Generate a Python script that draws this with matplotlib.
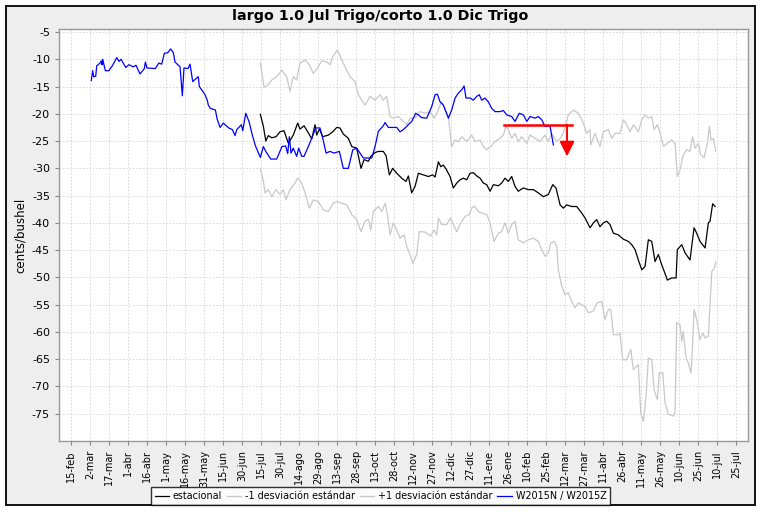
# spread chart: largo Jul Trigo / corto Dic Trigo, seasonal vs current contract
import matplotlib
matplotlib.use("Agg")
import matplotlib.pyplot as plt
from matplotlib.patches import Rectangle

plt.rcParams['axes.unicode_minus'] = False

# x values are days counted from 15-feb (first tick)
tick_labels = ["15-feb", "2-mar", "17-mar", "1-abr", "16-abr", "1-may", "16-may", "31-may",
               "15-jun", "30-jun", "15-jul", "30-jul", "14-ago", "29-ago", "13-sep", "28-sep",
               "13-oct", "28-oct", "12-nov", "27-nov", "12-dic", "27-dic", "11-ene", "26-ene",
               "10-feb", "25-feb", "12-mar", "27-mar", "11-abr", "26-abr", "11-may", "26-may",
               "10-jun", "25-jun", "10-jul", "25-jul"]
tick_days = [15 * i for i in range(len(tick_labels))]

# W2015N / W2015Z (current spread)
w_days = [16.0, 17.1, 17.9, 19.5, 20.3, 22.9, 23.9, 24.5, 25.0, 27.1, 29.8, 32.6, 36.1, 37.9, 39.5,
          43.2, 45.8, 49.2, 51.3, 54.5, 57.9, 58.7, 60.0, 66.6, 69.3, 71.6, 73.7, 76.4, 78.7, 80.8,
          82.1, 86.1, 87.9, 89.2, 92.4, 94.0, 96.1, 98.9, 100.5, 101.3, 105.6, 107.6, 108.4, 110.0,
          114.0, 115.3, 117.7, 120.3, 124.5, 127.4, 129.5, 130.9, 134.5, 135.6, 138.0, 140.8, 142.7,
          145.5, 149.5, 151.9, 153.8, 157.7, 162.4, 166.6, 169.5, 171.1, 172.4, 173.7, 175.5, 178.2,
          179.8, 182.2, 184.0, 187.4, 190.1, 193.2, 196.6, 198.8, 201.4, 204.5, 207.7, 211.9, 215.0,
          219.0, 222.5, 225.6, 230.8, 237.5, 240.1, 242.7, 246.6, 248.0, 250.6, 257.2, 259.8, 262.4,
          265.1, 269.0, 272.2, 274.3, 276.9, 280.9, 284.8, 287.5, 289.3, 291.4, 294.0, 298.0, 300.6,
          303.3, 305.9, 308.5, 310.4, 311.9, 315.1, 317.7, 320.4, 322.4, 324.3, 326.9, 329.5, 332.2,
          334.8, 338.8, 341.4, 344.1, 348.0, 350.6, 354.0, 357.2, 359.9, 362.5, 366.4, 369.0, 371.7,
          374.3, 378.3, 380.9]
w_vals = [-13.9, -12.1, -13.2, -13.1, -11.2, -10.7, -10.3, -11.0, -10.0, -12.1, -12.1, -11.2, -9.7,
          -10.4, -10.0, -11.5, -11.0, -11.4, -11.1, -12.7, -11.7, -10.5, -11.6, -11.7, -10.7, -10.9,
          -8.9, -8.8, -8.1, -8.8, -10.5, -11.4, -16.7, -11.6, -11.7, -10.9, -14.1, -13.5, -13.2, -15.0,
          -16.4, -17.5, -18.4, -19.0, -19.3, -20.9, -22.5, -21.7, -22.6, -22.9, -24.0, -22.9, -22.0,
          -23.1, -19.9, -21.6, -23.5, -25.8, -28.0, -26.0, -26.9, -28.3, -28.3, -26.0, -25.9, -27.3,
          -24.2, -27.2, -26.3, -27.8, -26.3, -27.8, -27.8, -26.0, -24.5, -22.6, -22.6, -24.5, -27.2,
          -26.9, -27.2, -26.9, -30.0, -30.0, -26.6, -26.3, -28.1, -28.1, -26.0, -23.2, -22.2, -21.6,
          -22.5, -22.5, -23.3, -22.9, -22.3, -21.4, -19.9, -20.2, -20.7, -20.8, -18.7, -16.5, -16.4,
          -17.8, -18.4, -20.8, -19.3, -17.1, -16.2, -15.6, -14.9, -17.1, -17.1, -17.5, -16.8, -16.5,
          -17.5, -17.1, -17.8, -19.0, -19.6, -19.6, -19.4, -20.2, -20.5, -21.4, -19.9, -20.2, -21.4,
          -20.5, -20.8, -20.5, -21.1, -22.3, -22.3, -25.7]

# estacional (seasonal average)
est_days = [149.5, 151.9, 153.8, 155.8, 158.5, 161.9, 165.0, 168.2, 169.8, 171.6, 175.5, 179.0,
            180.8, 184.0, 187.4, 190.1, 192.7, 194.0, 196.1, 198.8, 203.2, 206.7, 209.8, 212.4,
            215.0, 219.0, 221.7, 225.6, 229.0, 231.4, 234.8, 236.7, 240.1, 242.7, 246.6, 248.8,
            251.4, 254.0, 257.2, 261.1, 264.5, 266.4, 269.0, 271.7, 274.3, 278.2, 282.2, 285.6,
            287.5, 290.1, 292.0, 294.0, 296.1, 299.3, 301.9, 304.6, 307.2, 309.8, 312.5, 315.1,
            317.7, 320.4, 323.0, 325.6, 328.3, 330.9, 333.5, 337.4, 340.1, 342.7, 345.3, 348.0,
            350.6, 353.2, 357.2, 361.1, 365.1, 369.0, 373.0, 376.9, 380.4, 383.0, 386.2, 388.8,
            391.4, 395.4, 399.3, 403.3, 405.9, 409.9, 412.5, 415.1, 417.7, 420.4, 423.0, 425.6,
            428.3, 432.2, 436.2, 440.1, 442.8, 445.4, 448.0, 450.7, 453.3, 455.9, 458.6, 461.2,
            463.8, 466.5, 469.9, 470.9, 474.4, 477.8, 478.8, 482.3, 484.9, 488.8, 492.0, 494.1,
            496.7, 500.7, 503.3, 504.6, 506.7, 508.6]
est_vals = [-20.1, -22.3, -25.0, -24.0, -24.4, -24.2, -23.3, -23.1, -24.2, -25.4, -23.9, -21.7,
            -22.8, -22.2, -23.5, -24.6, -22.0, -23.9, -22.8, -24.2, -23.9, -23.3, -22.5, -22.6,
            -23.7, -24.5, -26.0, -26.3, -30.0, -28.4, -28.7, -27.8, -27.1, -26.9, -26.9, -27.7,
            -31.2, -30.0, -30.9, -31.8, -32.4, -31.4, -34.5, -33.3, -30.9, -31.2, -31.5, -31.2,
            -31.6, -28.8, -29.7, -29.4, -30.1, -31.5, -33.6, -32.7, -32.1, -31.8, -32.1, -30.9,
            -30.8, -31.4, -31.8, -32.7, -33.0, -34.2, -33.0, -33.2, -32.7, -31.8, -32.4, -31.5,
            -33.3, -34.2, -33.6, -33.9, -33.9, -34.5, -35.2, -34.8, -33.0, -33.6, -36.7, -37.3,
            -36.7, -37.0, -37.0, -38.2, -39.1, -40.9, -40.0, -39.4, -40.7, -40.0, -39.7, -40.3,
            -41.9, -42.2, -43.0, -43.4, -44.0, -44.9, -46.8, -48.6, -48.0, -43.1, -43.4, -47.1,
            -45.8, -47.7, -49.8, -50.5, -50.1, -50.1, -44.9, -44.0, -45.5, -46.8, -40.9, -41.9,
            -43.4, -44.6, -40.0, -39.7, -36.5, -37.0]

# +1 desviacion estandar
up_days = [149.5, 152.4, 155.8, 158.5, 162.4, 166.4, 170.3, 172.9, 175.5, 178.2, 180.8, 184.8,
           188.2, 191.3, 195.3, 197.9, 201.9, 204.5, 206.7, 210.3, 215.0, 220.3, 224.3, 226.9,
           232.2, 236.1, 240.1, 244.0, 246.6, 249.3, 251.9, 254.5, 258.5, 262.4, 265.1, 267.7,
           271.7, 275.6, 279.6, 283.5, 286.9, 288.8, 292.7, 295.3, 298.0, 300.6, 303.3, 305.9,
           308.5, 312.5, 316.4, 319.0, 323.0, 325.6, 328.3, 331.4, 334.8, 338.8, 341.4, 343.5,
           345.3, 348.0, 350.6, 353.2, 355.9, 359.9, 362.5, 366.4, 370.4, 374.3, 376.9, 379.6,
           383.6, 387.5, 390.1, 392.7, 396.7, 400.6, 404.6, 407.2, 409.9, 410.4, 413.8, 417.7,
           420.4, 424.3, 427.0, 429.6, 433.5, 436.2, 438.8, 441.4, 444.1, 448.0, 450.7, 453.3,
           455.9, 458.6, 460.4, 463.0, 465.1, 467.8, 470.9, 474.4, 477.0, 478.8, 480.9, 483.5,
           486.2, 488.8, 490.9, 492.8, 495.4, 497.3, 499.9, 502.5, 504.1, 505.4, 507.2, 509.1]
up_vals = [-10.7, -15.1, -14.7, -13.8, -13.2, -12.0, -13.2, -15.9, -13.2, -13.8, -10.7, -10.1,
           -11.0, -12.6, -11.4, -10.3, -10.5, -11.0, -9.5, -8.3, -10.7, -13.2, -14.1, -16.5,
           -18.4, -16.8, -17.5, -16.5, -17.5, -16.8, -20.5, -20.8, -20.5, -21.4, -22.0, -20.8,
           -20.8, -19.6, -19.9, -19.6, -20.8, -19.9, -17.8, -19.0, -20.5, -26.0, -24.8, -25.1,
           -24.2, -25.1, -23.9, -25.1, -24.8, -26.0, -26.6, -26.0, -25.1, -24.5, -23.9, -22.3,
           -22.9, -24.5, -23.6, -25.1, -24.2, -25.4, -23.9, -24.5, -25.1, -23.9, -25.1, -23.6,
           -25.1, -24.2, -22.6, -20.2, -19.3, -19.9, -21.7, -23.6, -22.9, -25.7, -23.6, -26.0,
           -23.3, -22.9, -24.5, -23.6, -23.6, -21.1, -22.0, -23.3, -22.0, -23.3, -21.1, -20.2,
           -20.8, -20.5, -22.9, -22.0, -23.5, -26.0, -25.4, -24.8, -25.4, -31.5, -30.3, -27.5,
           -26.6, -26.9, -24.2, -26.3, -25.4, -27.5, -28.1, -25.4, -22.3, -24.8, -24.5, -26.8]

# -1 desviacion estandar
dn_days = [149.5, 151.9, 153.2, 155.8, 158.5, 161.9, 165.0, 167.7, 169.8, 172.9, 176.9, 179.0,
           182.2, 184.8, 188.2, 191.3, 195.3, 199.2, 203.2, 207.1, 210.3, 213.8, 217.7, 221.7,
           225.6, 229.0, 232.2, 234.8, 236.7, 238.7, 242.7, 245.4, 248.0, 250.1, 251.9, 254.5,
           257.2, 259.8, 263.0, 265.1, 267.7, 269.8, 273.0, 275.0, 279.6, 283.9, 286.7, 288.8,
           290.1, 292.7, 296.7, 299.8, 301.9, 304.6, 307.2, 311.1, 314.5, 316.4, 318.5, 321.6,
           324.3, 328.3, 330.9, 334.0, 337.4, 340.1, 342.7, 345.3, 348.0, 350.6, 353.2, 357.2,
           361.1, 365.1, 369.0, 371.7, 374.3, 376.9, 378.8, 381.4, 383.6, 384.8, 387.5, 390.1,
           392.7, 395.4, 398.0, 400.6, 403.3, 405.9, 408.5, 412.5, 415.1, 419.1, 421.7, 424.3,
           426.2, 428.3, 432.2, 433.5, 435.7, 438.8, 442.0, 444.1, 446.7, 448.0, 449.9, 452.0,
           454.1, 455.9, 458.6, 460.4, 463.0, 464.6, 467.3, 469.1, 471.7, 475.7, 477.0, 478.3,
           480.9, 482.3, 483.5, 485.7, 487.5, 489.6, 490.6, 492.0, 494.1, 496.7, 498.9, 500.7,
           503.3, 506.0, 508.1, 509.1]
dn_vals = [-30.0, -32.4, -34.5, -33.9, -35.2, -33.9, -34.8, -33.9, -35.8, -33.9, -32.7, -31.8,
           -32.7, -34.5, -37.3, -35.8, -36.1, -37.6, -37.9, -36.4, -36.1, -36.4, -36.7, -38.5,
           -39.4, -41.6, -39.7, -39.4, -41.3, -37.9, -37.0, -37.9, -36.4, -38.8, -42.2, -40.0,
           -41.3, -42.8, -42.2, -44.3, -45.8, -47.4, -45.8, -41.6, -41.7, -42.4, -41.3, -42.2,
           -39.1, -40.3, -40.3, -39.1, -40.3, -41.6, -40.3, -38.8, -38.5, -37.3, -36.9, -37.9,
           -38.2, -38.5, -40.0, -43.4, -41.9, -41.6, -40.0, -41.9, -40.3, -39.7, -43.1, -43.7,
           -43.1, -42.8, -43.4, -44.9, -46.1, -45.5, -43.7, -43.4, -44.3, -48.6, -51.6, -53.2,
           -52.8, -54.4, -55.6, -54.7, -55.0, -55.3, -56.5, -56.2, -54.7, -54.4, -57.7, -55.9,
           -55.9, -60.5, -60.5, -60.2, -65.1, -65.1, -63.2, -66.9, -66.3, -66.0, -74.8, -76.4,
           -71.8, -64.8, -65.1, -70.6, -72.4, -67.5, -67.5, -73.0, -75.1, -75.4, -74.8, -58.3,
           -58.7, -61.7, -59.9, -64.8, -65.7, -67.5, -63.8, -55.9, -57.7, -61.4, -60.2, -61.1,
           -60.8, -48.9, -48.3, -47.1]

# red target line and arrow
target_level = -22.0
target_start, target_end = 342.0, 395.4
arrow_day = 391.7
arrow_tip = -27.8

fig = plt.figure(figsize=(7.61, 5.12), dpi=100)
fig.patches.append(Rectangle((6 / 761, 7 / 512), 749 / 761, 499 / 512, transform=fig.transFigure,
                             facecolor="#eeeeee", edgecolor="black", linewidth=1.3, zorder=-10))
ax = fig.add_axes([59 / 761, 71 / 512, 689 / 761, 412 / 512])
ax.set_facecolor("white")

l1, = ax.plot(est_days, est_vals, color="black", lw=0.9, label="estacional", zorder=3)
l2, = ax.plot(dn_days, dn_vals, color="#c8c8c8", lw=0.9, label="-1 desviación estándar", zorder=2)
l3, = ax.plot(up_days, up_vals, color="#c8c8c8", lw=0.9, label="+1 desviación estándar", zorder=2)
l4, = ax.plot(w_days, w_vals, color="#0000ff", lw=0.9, label="W2015N / W2015Z", zorder=4)

ax.plot([target_start, target_end], [target_level, target_level], color="#ff0000", lw=1.8, zorder=5)
ax.annotate("", xy=(arrow_day, arrow_tip), xytext=(arrow_day, target_level),
            arrowprops=dict(arrowstyle="-|>,head_length=0.9,head_width=0.45", color="#ff0000",
                            lw=1.4, shrinkA=0, shrinkB=0), zorder=5)

ax.set_xlim(-9.5, 534.6)
ax.set_ylim(-80, -4.45)
ax.set_xticks(tick_days)
ax.set_xticklabels(tick_labels, rotation=90, fontsize=7)
ax.set_yticks(range(-75, -4, 5))
ax.tick_params(axis="y", labelsize=8, length=3, color="#888888")
ax.tick_params(axis="x", length=3, color="#888888")
ax.grid(True, color="#d4d4d4", linestyle=(0, (2, 2)), linewidth=0.6)
ax.set_axisbelow(True)
for s in ax.spines.values():
    s.set_color("#999999")
    s.set_linewidth(1.0)
ax.set_ylabel("cents/bushel", fontsize=8.5)
ax.yaxis.set_label_coords(-0.046, 0.5)

fig.text(0.5, 1 - 16 / 512, "largo 1.0 Jul Trigo/corto 1.0 Dic Trigo", ha="center", va="center",
         fontsize=10.3, fontweight="bold")

leg = fig.legend(handles=[l1, l2, l3, l4], loc="lower center", bbox_to_anchor=(0.5, 7 / 512),
                 ncol=4, fontsize=6.9, frameon=True, fancybox=False, handlelength=1.5,
                 handletextpad=0.4, columnspacing=0.5, borderpad=0.4, borderaxespad=0)
leg.get_frame().set_edgecolor("black")
leg.get_frame().set_linewidth(1.0)

fig.savefig("out.png", dpi=100)
